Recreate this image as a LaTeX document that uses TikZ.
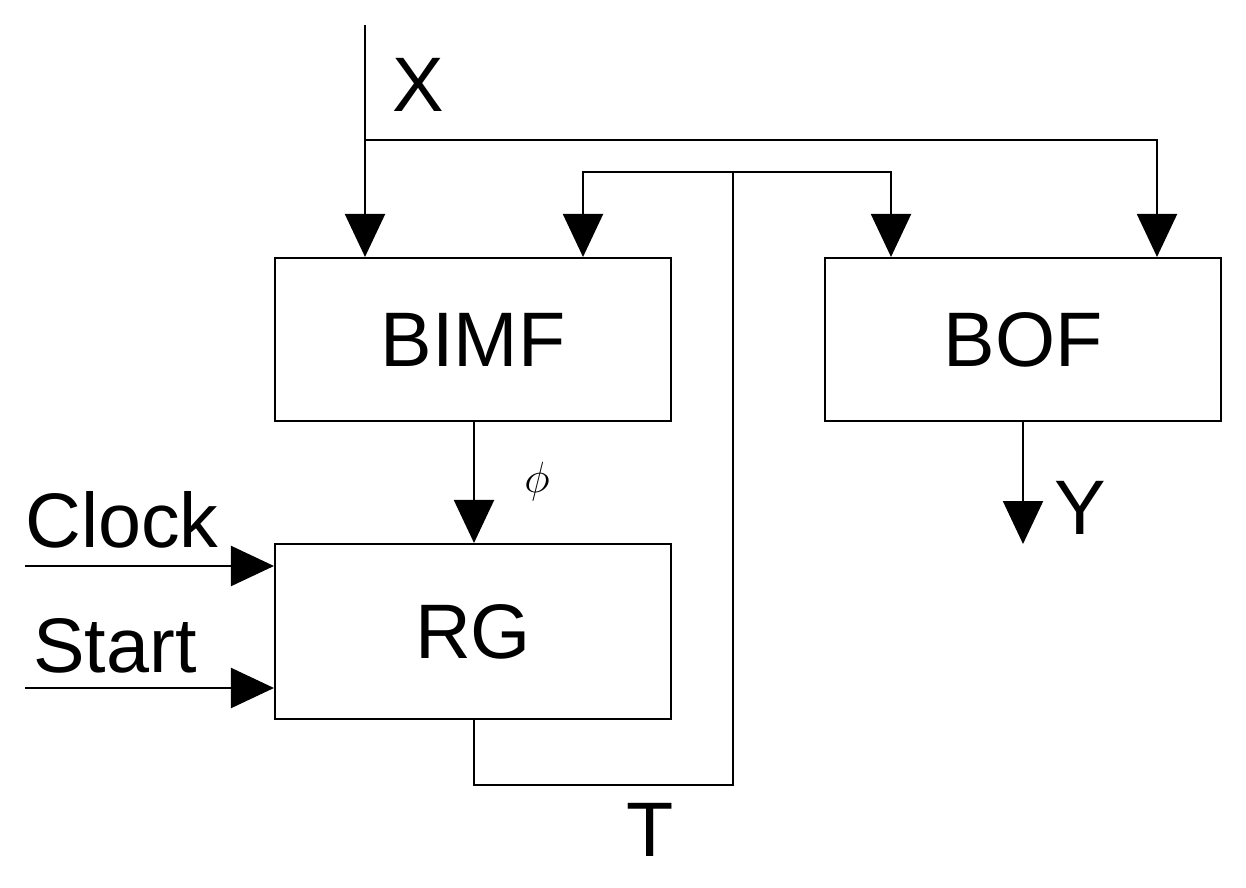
\documentclass[tikz,border=0pt]{standalone}
\usepackage{fontspec}
\setmainfont{Liberation Sans}
\usetikzlibrary{arrows.meta}
\begin{document}
\begin{tikzpicture}[x=0.02cm,y=-0.02cm,
  blk/.style={draw,line width=1.2pt,minimum width=7.92cm,minimum height=3.26cm,font=\fontsize{44}{48}\selectfont},
  ln/.style={line width=1.2pt},
  arr/.style={ln,-{Triangle[length=0.86cm,width=0.8cm]}},
  lbl/.style={font=\fontsize{44}{48}\selectfont}]
\useasboundingbox (0,0) rectangle (1246,888);
% blocks
\node[blk] (bimf) at (473,339.5) {BIMF};
\node[blk] (bof) at (1023,339.5) {BOF};
\node[blk,minimum height=3.5cm] (rg) at (473,631.5) {RG};
% coordinates
\coordinate (xin) at (365,25);
\coordinate (xbr) at (365,140);
\coordinate (xr) at (1157,140);
\coordinate (rgo) at (474,719);
\coordinate (tb) at (474,785);
\coordinate (tc) at (733,785);
\coordinate (tt) at (733,172);
\coordinate (tl) at (583,172);
\coordinate (tr) at (891,172);
\coordinate (yo) at (1023,544);
\coordinate (ck) at (25,566);
\coordinate (st) at (25,688);
% X input
\draw[arr] (xin) -- (xin |- bimf.north);
\draw[arr] (xbr) -- (xr) -- (xr |- bof.north);
% T feedback
\draw[ln] (rgo) -- (tb) -- (tc) -- (tt);
\draw[arr] (tt) -- (tl) -- (tl |- bimf.north);
\draw[arr] (tt) -- (tr) -- (tr |- bof.north);
% phi and Y
\draw[arr] (474,421) -- (rg.north -| 474,0);
\draw[arr] (bof.south) -- (yo);
% Clock, Start
\draw[arr] (ck) -- (ck -| rg.west);
\draw[arr] (st) -- (st -| rg.west);
% labels
\node[lbl] (lx) at (418,85) {X};
\node[lbl] (lphi) at (537,482) {$\phi$};
\node[lbl] (ly) at (1080,508) {Y};
\node[lbl] (lt) at (650,830) {T};
\node[lbl] (lck) at (122,520) {Clock};
\node[lbl] (lst) at (115,646) {Start};
\end{tikzpicture}
\end{document}
